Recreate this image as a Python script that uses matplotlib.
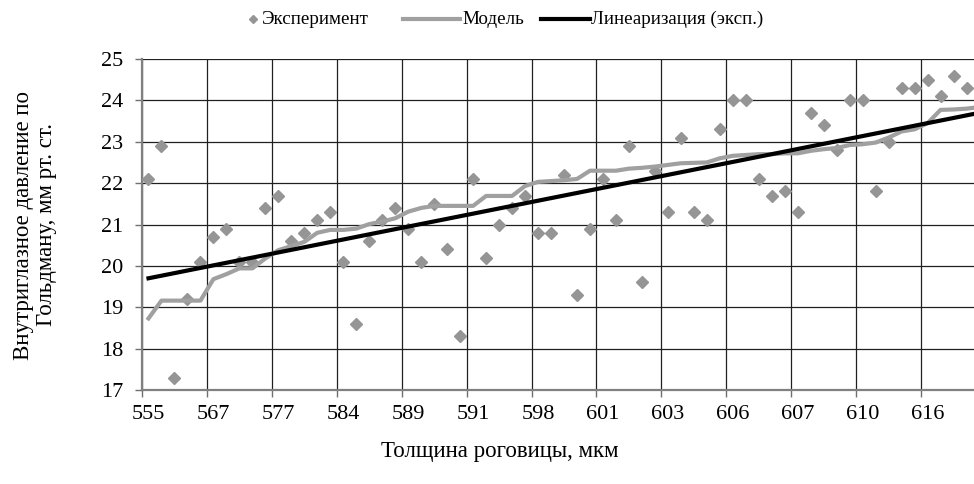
import matplotlib.pyplot as plt
from matplotlib.lines import Line2D
import numpy as np

plt.rcParams['font.family'] = ['Liberation Serif', 'DejaVu Serif']

# experiment values, one per category (thickness sorted ascending)
experiment = [22.1, 22.9, 17.3, 19.2, 20.1, 20.7, 20.9, 20.1, 20.1, 21.4,
              21.7, 20.6, 20.8, 21.1, 21.3, 20.1, 18.6, 20.6, 21.1, 21.4,
              20.9, 20.1, 21.5, 20.4, 18.3, 22.1, 20.2, 21.0, 21.4, 21.7,
              20.8, 20.8, 22.2, 19.3, 20.9, 22.1, 21.1, 22.9, 19.6, 22.3,
              21.3, 23.1, 21.3, 21.1, 23.3, 24.0, 24.0, 22.1, 21.7, 21.8,
              21.3, 23.7, 23.4, 22.8, 24.0, 24.0, 21.8, 23.0, 24.3, 24.3,
              24.5, 24.1, 24.6, 24.3]

model = [18.73, 19.16, 19.16, 19.16, 19.16, 19.68, 19.80, 19.94, 19.94, 20.18,
         20.38, 20.48, 20.58, 20.80, 20.87, 20.87, 20.90, 21.01, 21.07, 21.15,
         21.31, 21.40, 21.45, 21.45, 21.45, 21.45, 21.69, 21.69, 21.69, 21.93,
         22.03, 22.05, 22.07, 22.10, 22.30, 22.30, 22.30, 22.35, 22.37, 22.40,
         22.44, 22.48, 22.49, 22.50, 22.60, 22.66, 22.68, 22.70, 22.70, 22.72,
         22.72, 22.78, 22.82, 22.85, 22.92, 22.94, 22.98, 23.10, 23.25, 23.30,
         23.45, 23.77, 23.78, 23.80, 23.84]

trend_ends = [19.70, 23.70]   # linear trend of experiment, first / last category

tick_labels = ['555', '567', '577', '584', '589', '591', '598',
               '601', '603', '606', '607', '610', '616']

n_cat = len(model)
idx_exp = np.arange(len(experiment))
idx_model = np.arange(n_cat)

EXP_COL = '#959595'
MOD_COL = '#a0a0a0'

fig = plt.figure(figsize=(9.74, 4.84), dpi=100)
# plot area runs a little past the right edge, like the cropped original
ax = fig.add_axes([142 / 974, 1 - 390 / 484, (986 - 142) / 974, (390 - 59) / 484])

ax.plot(idx_exp, experiment, linestyle='none', marker='D', ms=6,
        color=EXP_COL, zorder=3)
ax.plot(idx_model, model, color=MOD_COL, lw=3, solid_joinstyle='round', zorder=4)
ax.plot([0, n_cat - 1], trend_ends, color='black', lw=3, zorder=5)

ax.set_xlim(-0.5, n_cat - 0.5)
ax.set_ylim(17, 25)
ax.set_yticks(np.arange(17, 26, 1))

# labels on every 5th category, gridlines on category boundaries
ax.set_xticks(np.arange(0, n_cat, 5))
ax.set_xticklabels(tick_labels)
ax.set_xticks(np.arange(-0.5, n_cat, 5), minor=True)
ax.tick_params(axis='x', which='major', length=0, pad=11, labelsize=16)
ax.tick_params(axis='x', which='minor', length=5, width=1, color='#707070')
ax.tick_params(axis='y', length=5, width=1, color='#707070', pad=8.5, labelsize=16)

ax.grid(True, axis='x', which='minor', color='#202020', lw=0.9)
ax.grid(True, axis='y', which='major', color='#202020', lw=0.9)
ax.set_axisbelow(True)

for s in ['top', 'right']:
    ax.spines[s].set_visible(False)
for s in ['left', 'bottom']:
    ax.spines[s].set_color('#808080')
    ax.spines[s].set_linewidth(1.6)

fig.text(500 / 974, 1 - 452 / 484, 'Толщина роговицы, мкм', fontsize=16.5,
         ha='center', va='center')
fig.text(35 / 974, 1 - 225 / 484, 'Внутриглазное давление по\nГольдману, мм рт. ст.',
         fontsize=16.5, rotation=90, ha='center', va='center', linespacing=1.15,
         multialignment='center')

# legend drawn by hand: small diamond close to its text, short lines
ly = 1 - 19 / 484
fs_leg = 13.7
fig.add_artist(Line2D([253 / 974], [ly], marker='D', ms=4.5, color=EXP_COL,
                      transform=fig.transFigure))
fig.text(262 / 974, ly, 'Эксперимент', fontsize=fs_leg, va='center')
fig.add_artist(Line2D([403 / 974, 460 / 974], [ly, ly], lw=3, color=MOD_COL,
                      transform=fig.transFigure))
fig.text(462 / 974, ly, 'Модель', fontsize=fs_leg, va='center')
fig.add_artist(Line2D([541 / 974, 590 / 974], [ly, ly], lw=3, color='black',
                      transform=fig.transFigure))
fig.text(591 / 974, ly, 'Линеаризация (эксп.)', fontsize=fs_leg, va='center')

fig.savefig('out.png', dpi=100)
